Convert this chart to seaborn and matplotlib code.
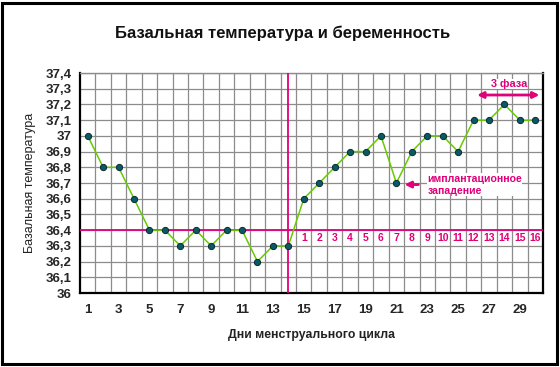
import matplotlib
matplotlib.use("Agg")
import matplotlib.pyplot as plt
import seaborn as sns
import numpy as np
import pandas as pd
from matplotlib.ticker import FixedLocator, FuncFormatter, MultipleLocator
from matplotlib.patches import Rectangle

days = list(range(1, 31))
temps = [37.0, 36.8, 36.8, 36.6, 36.4, 36.4, 36.3, 36.4, 36.3, 36.4,
         36.4, 36.2, 36.3, 36.3, 36.6, 36.7, 36.8, 36.9, 36.9, 37.0,
         36.7, 36.9, 37.0, 37.0, 36.9, 37.1, 37.1, 37.2, 37.1, 37.1]
xtick_labels = [str(d) for d in range(1, 30, 2)]
phase_numbers = [str(i) for i in range(1, 17)]
phase_days = list(range(15, 31))
cover_line = 36.4
ovulation_day = 14

title = "Базальная температура и беременность"
xlabel = "Дни менструального цикла"
ylabel = "Базальная температура"
implant_text = "имплантационное\nзападение"
phase3_text = "3 фаза"

sns.set_theme(style="white")
plt.rcParams['font.family'] = ['Liberation Sans', 'DejaVu Sans']

df = pd.DataFrame({"day": days, "temp": temps})

fig = plt.figure(figsize=(5.6, 3.67), dpi=100)
ax = fig.add_axes([80/560, 74/367, (543-80)/560, (293-73)/367])

pink = '#e0007a'
green = '#66cc00'

sns.lineplot(data=df, x="day", y="temp", ax=ax, color=green, linewidth=1.1,
             marker='o', markersize=4.5, markerfacecolor='#0a5a66',
             markeredgecolor='#0a2a30', markeredgewidth=0.7, zorder=5)

ax.set_xlim(0.5, 30.5)
ax.set_ylim(36.0, 37.4)

# grid
ax.xaxis.set_minor_locator(FixedLocator(np.arange(0.5, 31, 1.0)))
ax.xaxis.set_major_locator(FixedLocator(list(range(1, 30, 2))))
ax.set_xticklabels(xtick_labels)
ax.yaxis.set_major_locator(MultipleLocator(0.1))
ax.yaxis.set_major_formatter(FuncFormatter(lambda v, p: ('%g' % round(v, 1)).replace('.', ',')))
for yv in np.arange(36.1, 37.41, 0.1):
    ax.axhline(yv, color='#8c8c8c', lw=0.9, zorder=1)
for xv in np.arange(1.5, 30.5, 1.0):
    ax.axvline(xv, color='#8c8c8c', lw=0.9, zorder=1)

ax.tick_params(axis='x', which='major', length=0, labelsize=9.5, pad=8)
ax.tick_params(axis='x', which='minor', length=6, width=1.2, direction='inout', color='black')
ax.tick_params(axis='y', which='major', length=6, width=1.2, direction='inout', color='black',
               labelsize=9.5, pad=3)
for lab in ax.get_xticklabels() + ax.get_yticklabels():
    lab.set_fontweight('bold')

for side in ['left', 'bottom', 'right']:
    ax.spines[side].set_color('black')
    ax.spines[side].set_linewidth(1.6)
    ax.spines[side].set_visible(True)
ax.spines['top'].set_color('#8c8c8c')
ax.spines['top'].set_linewidth(1.0)
ax.spines['top'].set_visible(True)

# red lines
ax.axhline(cover_line, color=pink, lw=1.3, zorder=3)
ax.axvline(ovulation_day, color=pink, lw=1.3, zorder=3)

for d, n in zip(phase_days, phase_numbers):
    ax.text(d, 36.35, n, color=pink, fontsize=7.5, fontweight='bold',
            ha='center', va='center', zorder=6)

# implantation annotation
ax.annotate("", xy=(21.35, 36.69), xytext=(22.6, 36.69),
            arrowprops=dict(arrowstyle='-|>', color=pink, lw=2.0, mutation_scale=9),
            zorder=6)
ax.text(23.0, 36.69, implant_text, color=pink, fontsize=7.6, fontweight='bold',
        ha='left', va='center', linespacing=1.25, zorder=6,
        bbox=dict(facecolor='white', edgecolor='none', pad=0.2))

# 3 phase
ax.annotate("", xy=(26.05, 37.26), xytext=(30.45, 37.26),
            arrowprops=dict(arrowstyle='<|-|>', color=pink, lw=2.0, mutation_scale=9),
            zorder=6)
ax.text(28.3, 37.33, phase3_text, color=pink, fontsize=7.8, fontweight='bold',
        ha='center', va='center', zorder=6,
        bbox=dict(facecolor='white', edgecolor='none', pad=0.2))

ax.set_xlabel(xlabel, fontsize=8.8, fontweight='bold', labelpad=9)
ax.set_ylabel(ylabel, fontsize=9, labelpad=7)
ax.xaxis.label.set_color('#222222')
ax.yaxis.label.set_color('#222222')

fig.text(0.505, 0.91, title, fontsize=12, fontweight='bold', ha='center', va='center',
         color='#111111')

fig.patches.append(Rectangle((2/560, 3/367), 555/560, 361/367, transform=fig.transFigure,
                             fill=False, edgecolor='black', lw=2.2))

fig.savefig("out.png", dpi=100)
